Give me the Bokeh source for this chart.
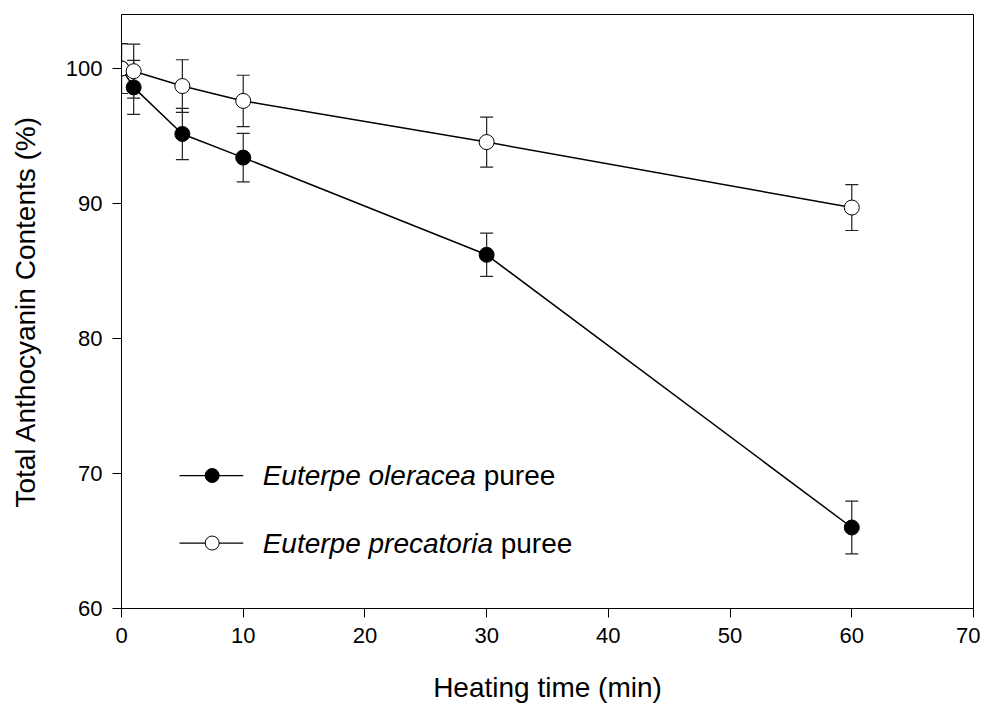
from bokeh.plotting import figure
from bokeh.models import ColumnDataSource, Whisker, TeeHead, FixedTicker, Range1d
from bokeh.core.properties import value
from bokeh.embed import file_html
from bokeh.resources import INLINE

# ---- data ----
time_min = [0, 1, 5, 10, 30, 60]
oleracea = [100.0, 98.6, 95.15, 93.4, 86.2, 66.0]
oleracea_err = [1.85, 2.0, 1.9, 1.8, 1.6, 1.95]
precatoria = [100.0, 99.8, 98.7, 97.6, 94.55, 89.7]
precatoria_err = [1.85, 2.0, 1.95, 1.9, 1.85, 1.7]

x_ticks = [0, 10, 20, 30, 40, 50, 60, 70]
y_ticks = [60, 70, 80, 90, 100]

FONT = "Liberation Sans"

p = figure(width=980, height=706, x_range=Range1d(0, 70), y_range=Range1d(60, 104),
           output_backend="svg", toolbar_location=None,
           min_border_left=121, min_border_right=7, min_border_top=14, min_border_bottom=98)
p.xgrid.visible = False
p.ygrid.visible = False
p.outline_line_color = "black"
p.outline_line_width = 1
p.outline_line_alpha = 1
p.background_fill_color = "white"
p.border_fill_color = "white"

for ax in (p.xaxis[0], p.yaxis[0]):
    ax.axis_line_color = "black"
    ax.axis_line_width = 1
    ax.major_tick_line_color = "black"
    ax.major_tick_out = 9
    ax.major_tick_in = 0
    ax.minor_tick_line_color = None
    ax.major_label_text_font = FONT
    ax.major_label_text_font_size = "22px"
    ax.major_label_text_color = "black"
    ax.axis_label_text_font = FONT
    ax.axis_label_text_font_size = "28px"
    ax.axis_label_text_font_style = "normal"
    ax.axis_label_text_color = "black"

p.xaxis.ticker = FixedTicker(ticks=x_ticks)
p.yaxis.ticker = FixedTicker(ticks=y_ticks)
p.xaxis.axis_label = "Heating time (min)"
p.yaxis.axis_label = "Total Anthocyanin Contents (%)"
p.xaxis.major_label_standoff = 10
p.yaxis.major_label_standoff = 10
p.xaxis.axis_label_standoff = 26
p.yaxis.axis_label_standoff = 22

src_o = ColumnDataSource(dict(x=time_min, y=oleracea,
                              lo=[v - e for v, e in zip(oleracea, oleracea_err)],
                              hi=[v + e for v, e in zip(oleracea, oleracea_err)]))
src_p = ColumnDataSource(dict(x=time_min, y=precatoria,
                              lo=[v - e for v, e in zip(precatoria, precatoria_err)],
                              hi=[v + e for v, e in zip(precatoria, precatoria_err)]))

for src in (src_o, src_p):
    w = Whisker(source=src, base="x", upper="hi", lower="lo", dimension="height",
                line_color="#222222", line_width=1.2,
                upper_head=TeeHead(size=13, line_color="#222222", line_width=1.2),
                lower_head=TeeHead(size=13, line_color="#222222", line_width=1.2))
    p.add_layout(w)

p.line("x", "y", source=src_o, line_color="black", line_width=1.5)
p.scatter("x", "y", source=src_o, size=15, marker="circle", fill_color="black",
          line_color="black", line_width=1)
p.line("x", "y", source=src_p, line_color="black", line_width=1.5)
p.scatter("x", "y", source=src_p, size=15, marker="circle", fill_color="white",
          line_color="black", line_width=1)

# ---- legend (drawn manually for mixed italic / normal text) ----
leg_y = [69.85, 64.85]
leg_fill = ["black", "white"]
leg_italic = ["Euterpe oleracea", "Euterpe precatoria"]
leg_offset = [221, 238]
for yy, fc, it, off in zip(leg_y, leg_fill, leg_italic, leg_offset):
    p.line([4.77, 10.0], [yy, yy], line_color="black", line_width=1.3)
    p.scatter([7.45], [yy], size=14, marker="circle", fill_color=fc,
              line_color="black", line_width=1)
    p.text([11.6], [yy], text=[it], text_font=value(FONT), text_font_size="28px",
           text_font_style="italic", text_baseline="middle", text_align="left",
           text_color="black")
    p.text([11.6], [yy], text=["puree"], x_offset=off, text_font=value(FONT),
           text_font_size="28px", text_baseline="middle", text_align="left",
           text_color="black")

open("out.html", "w").write(file_html(p, INLINE))
